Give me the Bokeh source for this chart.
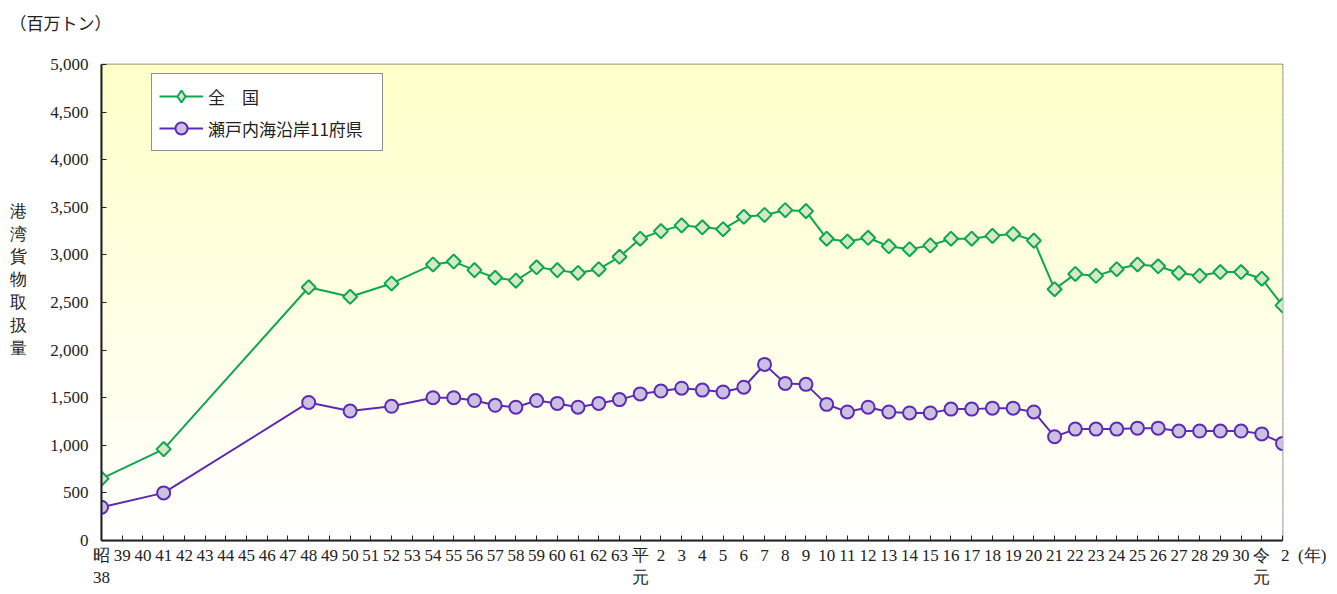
import numpy as np
from bokeh.plotting import figure
from bokeh.models import Range1d, FixedTicker, Legend, LegendItem
from bokeh.embed import file_html
from bokeh.resources import INLINE

# ---- axis categories (era-year) ----
all_years = [
    "昭38", "昭39", "昭40", "昭41", "昭42", "昭43", "昭44", "昭45", "昭46", "昭47",
    "昭48", "昭49", "昭50", "昭51", "昭52", "昭53", "昭54", "昭55", "昭56", "昭57",
    "昭58", "昭59", "昭60", "昭61", "昭62", "昭63",
    "平元", "平2", "平3", "平4", "平5", "平6", "平7", "平8", "平9", "平10",
    "平11", "平12", "平13", "平14", "平15", "平16", "平17", "平18", "平19", "平20",
    "平21", "平22", "平23", "平24", "平25", "平26", "平27", "平28", "平29", "平30",
    "令元", "令2",
]
NB = "\u00a0"
tick_labels = [
    "昭\n38", "39", "40", "41", "42", "43", "44", "45", "46", "47",
    "48", "49", "50", "51", "52", "53", "54", "55", "56", "57",
    "58", "59", "60", "61", "62", "63",
    "平\n元", "2", "3", "4", "5", "6", "7", "8", "9", "10",
    "11", "12", "13", "14", "15", "16", "17", "18", "19", "20",
    "21", "22", "23", "24", "25", "26", "27", "28", "29", "30",
    "令\n元", NB * 10 + "2" + NB * 2 + "(年)",
]

# ---- years that have data ----
data_years = [
    "昭38", "昭41", "昭48", "昭50", "昭52", "昭54", "昭55", "昭56", "昭57", "昭58",
    "昭59", "昭60", "昭61", "昭62", "昭63",
    "平元", "平2", "平3", "平4", "平5", "平6", "平7", "平8", "平9", "平10",
    "平11", "平12", "平13", "平14", "平15", "平16", "平17", "平18", "平19", "平20",
    "平21", "平22", "平23", "平24", "平25", "平26", "平27", "平28", "平29", "平30",
    "令元", "令2",
]
# 全国 (million tons)
national = [
    650, 960, 2660, 2560, 2700, 2900, 2930, 2840, 2760, 2730,
    2870, 2840, 2810, 2850, 2980,
    3170, 3250, 3310, 3290, 3270, 3400, 3420, 3470, 3460, 3170,
    3140, 3180, 3090, 3060, 3100, 3170, 3170, 3200, 3220, 3150,
    2640, 2800, 2780, 2850, 2900, 2880, 2810, 2780, 2820, 2820,
    2750, 2470,
]
# 瀬戸内海沿岸11府県 (million tons)
setouchi = [
    350, 500, 1450, 1360, 1410, 1500, 1500, 1470, 1420, 1400,
    1470, 1440, 1400, 1440, 1480,
    1540, 1570, 1600, 1580, 1560, 1610, 1850, 1650, 1640, 1430,
    1350, 1400, 1350, 1340, 1340, 1380, 1380, 1390, 1390, 1350,
    1090, 1170, 1170, 1170, 1180, 1180, 1150, 1150, 1150, 1150,
    1120, 1020,
]
y_ticks = [0, 500, 1000, 1500, 2000, 2500, 3000, 3500, 4000, 4500, 5000]

assert len(data_years) == len(national) == len(setouchi)

x_pos = [all_years.index(y) for y in data_years]
n_cat = len(all_years)

GREEN = "#0DA84E"
GREEN_FILL = "#D6E8C8"
PURPLE = "#5E2AB5"
PURPLE_FILL = "#CBC0E0"
NUM_FONT = "Liberation Serif"
JP_FONT = "Noto Sans CJK JP"
TXT = "#222222"

# frame geometry (canvas pixels)
F_LEFT, F_TOP, F_RIGHT, F_BOTTOM = 101, 64, 1282, 540
W, H = 1330, 590

p = figure(width=W, height=H, output_backend="svg", toolbar_location=None,
           x_range=Range1d(0, n_cat - 1), y_range=Range1d(y_ticks[0], y_ticks[-1]),
           min_border_left=F_LEFT, min_border_top=F_TOP,
           min_border_right=W - F_RIGHT, min_border_bottom=H - F_BOTTOM,
           title="（百万トン）\n" + NB)
p.xgrid.visible = False
p.ygrid.visible = False
p.outline_line_color = "#555555"
p.outline_line_width = 1.5
p.background_fill_color = "white"
p.border_fill_color = "white"

p.title.align = "left"
p.title.offset = -92
p.title.text_font = JP_FONT
p.title.text_font_size = "17px"
p.title.text_font_style = "normal"
p.title.text_color = TXT

# vertical gradient background (yellow at top -> white at bottom)
n_band = 80
edges = np.linspace(y_ticks[0], y_ticks[-1], n_band + 1)
cols = []
for i in range(n_band):
    t = (i + 0.5) / n_band
    b = int(round(255 - (255 - 200) * t))
    cols.append("#%02x%02x%02x" % (255, 255, b))
p.quad(left=0, right=n_cat - 1, bottom=edges[:-1], top=edges[1:],
       fill_color=cols, line_color=cols, line_width=1)

# series
l1 = p.line(x_pos, national, line_color=GREEN, line_width=2)
m1 = p.scatter(x_pos, national, marker="square", angle=np.pi / 4, size=10,
               fill_color=GREEN_FILL, line_color=GREEN, line_width=2)
l2 = p.line(x_pos, setouchi, line_color=PURPLE, line_width=2)
m2 = p.scatter(x_pos, setouchi, marker="circle", size=13,
               fill_color=PURPLE_FILL, line_color=PURPLE, line_width=2)
# legend-only marker glyph (diamond, since legend glyphs are drawn unrotated)
lg1 = p.scatter(x=[np.nan], y=[np.nan], marker="diamond", size=14,
                fill_color=GREEN_FILL, line_color=GREEN, line_width=2)

# axes
xa = p.xaxis[0]
xa.ticker = FixedTicker(ticks=list(range(n_cat)))
xa.major_label_overrides = {i: lab for i, lab in enumerate(tick_labels)}
xa.major_tick_in = 5
xa.major_tick_out = 0
xa.minor_tick_line_color = None
xa.axis_line_color = TXT
xa.axis_line_width = 2
xa.major_tick_line_color = TXT
xa.major_label_text_font = NUM_FONT
xa.major_label_text_font_size = "17px"
xa.major_label_text_color = TXT
xa.major_label_standoff = 5

ya = p.yaxis[0]
ya.ticker = FixedTicker(ticks=y_ticks)
ya.major_label_overrides = {v: f"{v:,}" for v in y_ticks}
ya.major_tick_in = 5
ya.major_tick_out = 0
ya.minor_tick_line_color = None
ya.axis_line_color = TXT
ya.axis_line_width = 2
ya.major_tick_line_color = TXT
ya.major_label_text_font = NUM_FONT
ya.major_label_text_font_size = "17px"
ya.major_label_text_color = TXT
ya.major_label_standoff = 13
ya.axis_label = "\n".join(["港", "湾", "貨", "物", "取", "扱", "量", NB, NB])
ya.axis_label_orientation = "horizontal"
ya.axis_label_text_font = NUM_FONT
ya.axis_label_text_font_size = "17px"
ya.axis_label_text_font_style = "normal"
ya.axis_label_text_color = TXT
ya.axis_label_standoff = 20

# legend
legend = Legend(items=[LegendItem(label="全　国", renderers=[l1, lg1]),
                       LegendItem(label="瀬戸内海沿岸11府県", renderers=[l2, m2])],
                location=(50, 389), orientation="vertical",
                border_line_color=TXT, border_line_width=1,
                background_fill_color="white", background_fill_alpha=1,
                label_text_font=JP_FONT, label_text_font_size="17px",
                label_text_color=TXT,
                glyph_width=44, glyph_height=30, spacing=2, padding=7,
                label_standoff=5, label_width=167, margin=0)
p.add_layout(legend)

open("out.html", "w").write(file_html(p, INLINE))
